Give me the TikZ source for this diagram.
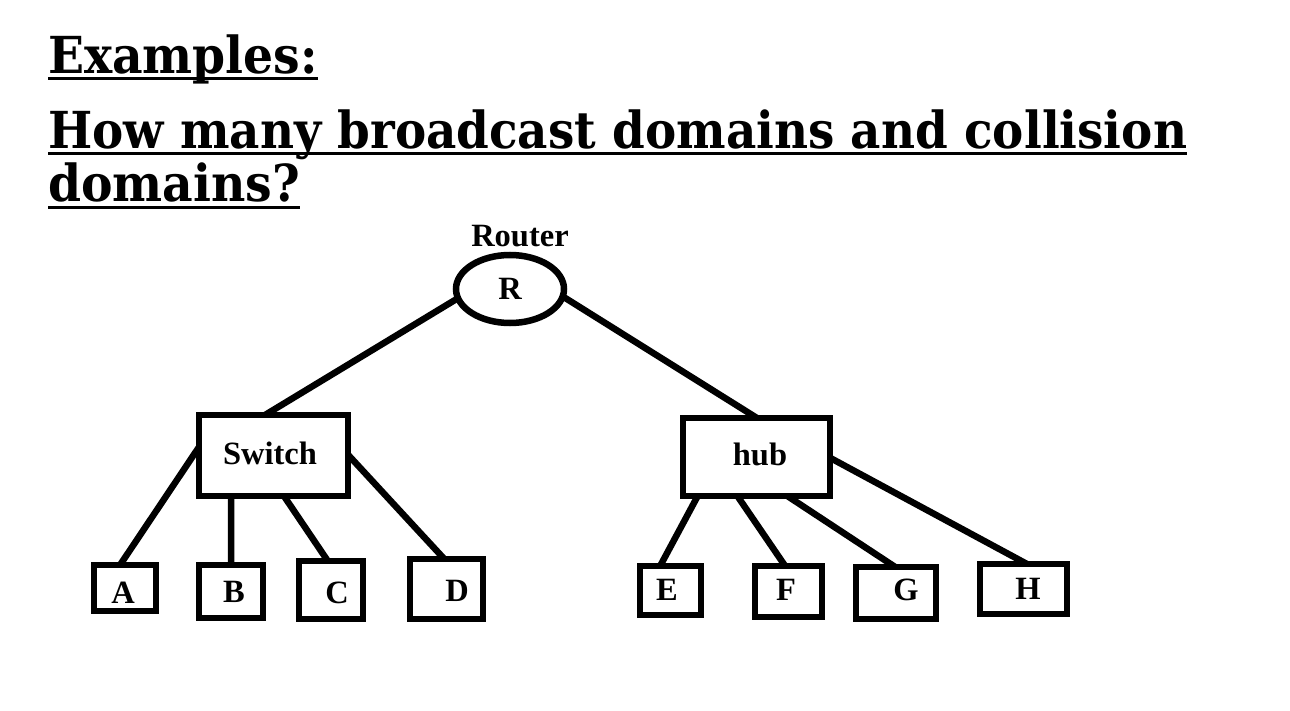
\documentclass[tikz,border=0pt]{standalone}
\usepackage{fontspec}
\usepackage{graphicx}
\usetikzlibrary{calc,shapes.geometric}
\setmainfont{Liberation Serif}
\newfontfamily\titlefont{DejaVu Serif}
\begin{document}
\begin{tikzpicture}[x=1pt,y=-1pt,
  ttl/.style={anchor=base west,inner sep=0,outer sep=0,font=\titlefont\bfseries\fontsize{51}{55}\selectfont},
  uline/.style={line width=3.5pt},
  conn/.style={line width=6.5pt},
  box/.style={draw,line width=6.5pt,inner sep=0,outer sep=0,rectangle},
  lbl/.style={anchor=base,inner sep=0,font=\bfseries\fontsize{32.5}{35}\selectfont}]
\useasboundingbox[fill=white] (0,0) rectangle (1290,711);

% title
\node[ttl] (t1) at (48,74) {\resizebox{270pt}{\height}{Examples:}};
\node[ttl] (t2) at (48,149) {\resizebox{1139pt}{\height}{How many broadcast domains and collision}};
\node[ttl] (t3) at (48,201.5) {\resizebox{252pt}{\height}{domains?}};
\draw[uline] ($(t1.base west)+(0,4.5)$) -- ($(t1.base east)+(0,4.5)$);
\draw[uline] ($(t2.base west)+(0,4.5)$) -- ($(t2.base east)+(0,4.5)$);
\draw[uline] ($(t3.base west)+(0,6)$) -- ($(t3.base east)+(0,6)$);

% router
\node[ellipse,draw,line width=6.5pt,minimum width=108pt,minimum height=68pt,inner sep=0,outer sep=0] (R) at (510,289) {};
\node[lbl] (Rl) at (510,299.5) {R};
\node[lbl] (Rt) at (520,247) {Router};

% switch and hub
\node[box,minimum width=149pt,minimum height=81pt] (S) at (273.5,455.5) {};
\node[lbl] (Sl) at (270,464.5) {Switch};
\node[box,minimum width=147pt,minimum height=78pt] (Hb) at (756.5,457) {};
\node[lbl] (Hl) at (760,465.5) {hub};

% end boxes
\node[box,minimum width=62pt,minimum height=46pt] (A) at (125,588) {};
\node[box,minimum width=64pt,minimum height=53pt] (B) at (231,591.5) {};
\node[box,minimum width=64pt,minimum height=58pt] (C) at (331,590) {};
\node[box,minimum width=73pt,minimum height=60pt] (D) at (446.5,589) {};
\node[box,minimum width=61pt,minimum height=49pt] (E) at (670.5,590.5) {};
\node[box,minimum width=67pt,minimum height=51pt] (F) at (788.5,591.5) {};
\node[box,minimum width=80pt,minimum height=52pt] (G) at (896,593) {};
\node[box,minimum width=87pt,minimum height=50pt] (H) at (1023.5,589) {};
\node[lbl] (Al) at (123,603) {A};
\node[lbl] (Bl) at (234,602.5) {B};
\node[lbl] (Cl) at (337,603.5) {C};
\node[lbl] (Dl) at (457,601.5) {D};
\node[lbl] (El) at (667,600.5) {E};
\node[lbl] (Fl) at (786,600.5) {F};
\node[lbl] (Gl) at (906,600.5) {G};
\node[lbl] (Hl2) at (1028,599.5) {H};

% connectors
\draw[conn] (R.190) -- ($(S.north west)!0.443!(S.north east)$);
\draw[conn] (R.-8) -- ($(Hb.north west)!0.503!(Hb.north east)$);
\draw[conn] ($(S.north west)!0.395!(S.south west)$) -- ($(A.north west)!0.42!(A.north east)$);
\draw[conn] ($(S.south west)!0.215!(S.south east)$) -- ($(B.north west)!0.5!(B.north east)$);
\draw[conn] ($(S.south west)!0.57!(S.south east)$) -- ($(C.north west)!0.45!(C.north east)$);
\draw[conn] ($(S.north east)!0.49!(S.south east)$) -- ($(D.north west)!0.47!(D.north east)$);
\draw[conn] ($(Hb.south west)!0.10!(Hb.south east)$) -- ($(E.north west)!0.33!(E.north east)$);
\draw[conn] ($(Hb.south west)!0.37!(Hb.south east)$) -- ($(F.north west)!0.45!(F.north east)$);
\draw[conn] ($(Hb.south west)!0.71!(Hb.south east)$) -- ($(G.north west)!0.49!(G.north east)$);
\draw[conn] ($(Hb.north east)!0.51!(Hb.south east)$) -- ($(H.north west)!0.54!(H.north east)$);
\end{tikzpicture}
\end{document}
